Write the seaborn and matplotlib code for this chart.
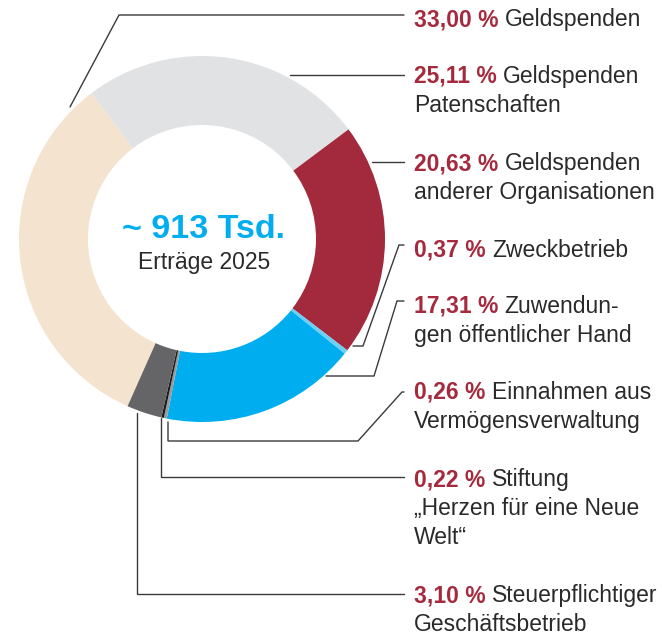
import matplotlib
matplotlib.use("Agg")
import matplotlib.pyplot as plt
import seaborn as sns

# ---------------- data ----------------
shares = [33.00, 25.11, 20.63, 0.37, 17.31, 0.26, 0.22, 3.10]
pct_labels = ["33,00 %", "25,11 %", "20,63 %", "0,37 %", "17,31 %", "0,26 %", "0,22 %", "3,10 %"]
desc_lines = [
    ["Geldspenden"],
    ["Geldspenden", "Patenschaften"],
    ["Geldspenden", "anderer Organisationen"],
    ["Zweckbetrieb"],
    ["Zuwendun-", "gen öffentlicher Hand"],
    ["Einnahmen aus", "Vermögensverwaltung"],
    ["Stiftung", "\u201eHerzen für eine Neue", "Welt\u201c"],
    ["Steuerpflichtiger", "Geschäftsbetrieb"],
]
slice_colors = ["#F4E3CF", "#E1E2E4", "#A3293C", "#6CCFF6", "#00AEEF",
                "#9A9A9C", "#1D1A1B", "#656567"]
center_value = "~ 913 Tsd."
center_caption = "Erträge 2025"

# ---------------- layout (pixel space, y downward) ----------------
W, H = 662, 636
CX, CY, R_OUT, R_IN = 202, 239, 183, 114
START = 246
TEXT_X = 414
LINE_H = 29
baselines = [26, 83, 170, 257, 313, 399, 486, 602]
leaders = [
    [(70, 107), (119, 15), (404, 15)],
    [(290, 75), (404, 75)],
    [(372, 162), (404, 162)],
    [(353, 346), (363, 346), (399, 245), (404, 245)],
    [(326, 376), (374, 376), (397, 301), (404, 301)],
    [(168, 422), (168, 441), (358, 441), (402, 392), (404, 392)],
    [(161, 418), (161, 477), (404, 477)],
    [(137, 413), (137, 594), (404, 594)],
]

RED = "#A52A3E"
DARK = "#2B2A2A"
BLUE = "#00AEEF"
FS = 16.5

sns.set_theme(style="white")
plt.rcParams["font.family"] = ["Liberation Sans", "DejaVu Sans"]

fig = plt.figure(figsize=(W / 100, H / 100), dpi=100)
ax = fig.add_axes([0, 0, 1, 1])


def Y(y):
    return H - y


palette = sns.color_palette(slice_colors)
wedges, _ = ax.pie(shares, colors=palette, startangle=START, counterclock=False,
                   center=(CX, Y(CY)), radius=R_OUT,
                   wedgeprops=dict(width=R_OUT - R_IN, linewidth=0))

ax.set_xlim(0, W)
ax.set_ylim(0, H)
ax.set_aspect("equal")
ax.axis("off")

# leader lines
for pts in leaders:
    xs = [p[0] for p in pts]
    ys = [Y(p[1]) for p in pts]
    ax.plot(xs, ys, color="#3A3A3A", lw=1.0, solid_joinstyle="miter")

# labels
for pct, lines, yb in zip(pct_labels, desc_lines, baselines):
    t = ax.text(TEXT_X, Y(yb), pct, fontsize=FS, fontweight="bold", color=RED,
                ha="left", va="baseline")
    ax.annotate(lines[0], xy=(1, 0), xycoords=t, xytext=(4.5, 0),
                textcoords="offset points", fontsize=FS, color=DARK,
                ha="left", va="bottom")
    for i, ln in enumerate(lines[1:], start=1):
        ax.text(TEXT_X, Y(yb + i * LINE_H), ln, fontsize=FS, color=DARK,
                ha="left", va="baseline")

# centre text
ax.text(203, Y(238), center_value, fontsize=24.5, fontweight="bold", color=BLUE,
        ha="center", va="baseline")
ax.text(204, Y(269), center_caption, fontsize=FS, color=DARK,
        ha="center", va="baseline")

fig.savefig("out.png", dpi=100, facecolor="white")
